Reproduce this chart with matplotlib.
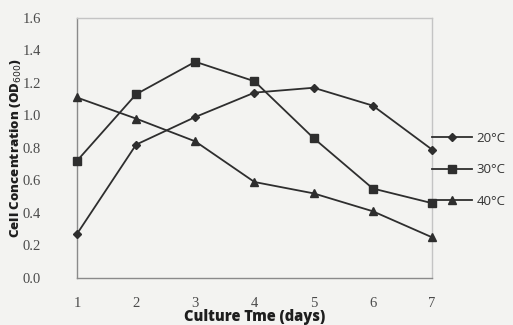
import matplotlib
matplotlib.use("Agg")
import matplotlib.pyplot as plt
from matplotlib.lines import Line2D

# Growth curves: cell concentration (OD600) per culture day
days = [1, 2, 3, 4, 5, 6, 7]
od_20 = [0.27, 0.82, 0.99, 1.14, 1.17, 1.06, 0.79]
od_30 = [0.72, 1.13, 1.33, 1.21, 0.86, 0.55, 0.46]
od_40 = [1.11, 0.98, 0.84, 0.59, 0.52, 0.41, 0.25]
labels = ["20°C", "30°C", "40°C"]
y_ticks = [0.0, 0.2, 0.4, 0.6, 0.8, 1.0, 1.2, 1.4, 1.6]

BG = "#f3f3f1"
INK = "#2e2e2e"
TICK = "#4a4a4a"

fig = plt.figure(figsize=(5.13, 3.25), dpi=100, facecolor=BG)
ax = fig.add_axes([0.150, 0.145, 0.692, 0.800])
ax.set_facecolor(BG)

series = [(od_20, "D", 4.0), (od_30, "s", 6.0), (od_40, "^", 5.5)]
for vals, mk, ms in series:
    ax.plot(days, vals, color=INK, lw=1.3, marker=mk, ms=ms,
            markerfacecolor=INK, markeredgecolor=INK, clip_on=False, zorder=3)

ax.set_xlim(1, 7)
ax.set_ylim(0, 1.6)
ax.set_xticks(days)
ax.set_yticks(y_ticks)
ax.set_yticklabels([f"{v:.1f}" for v in y_ticks])
ax.tick_params(length=0, labelsize=10.5, colors=TICK)
ax.tick_params(axis="x", pad=14)
ax.tick_params(axis="y", pad=26)
for lab in ax.get_xticklabels() + ax.get_yticklabels():
    lab.set_family("Liberation Serif")

for sp in ["left", "bottom"]:
    ax.spines[sp].set_color("#8a8a8a")
    ax.spines[sp].set_linewidth(1.0)
for sp in ["top", "right"]:
    ax.spines[sp].set_color("#c4c4c4")
    ax.spines[sp].set_linewidth(1.0)

ax.set_xlabel("Culture Tme (days)", fontsize=10.5, fontweight="heavy",
              family="Open Sans", color="#1e1e1e", labelpad=-1)
ax.set_ylabel("Cell Concentration (OD$_{600}$)", fontsize=9.5, fontweight="heavy",
              family="Open Sans", color="#1e1e1e", labelpad=-1)

handles = [Line2D([0], [0], color=INK, lw=1.3, marker=mk, ms=ms,
                  markerfacecolor=INK, markeredgecolor=INK)
           for _, mk, ms in series]
ax.legend(handles, labels, loc="center left", bbox_to_anchor=(1.0, 0.415),
          frameon=False, borderaxespad=0, borderpad=0, handlelength=3.0,
          handletextpad=0.4, labelspacing=1.4,
          prop={"family": "Open Sans", "size": 9.5}, labelcolor="#333333")

fig.savefig("out.png", dpi=100, facecolor=BG)
